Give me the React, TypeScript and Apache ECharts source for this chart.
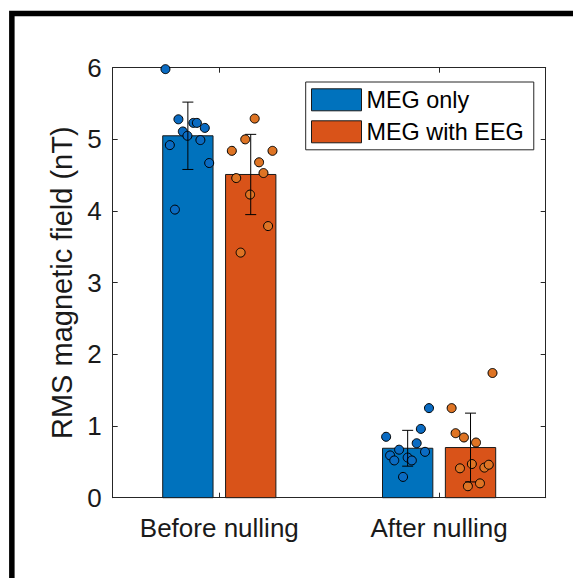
import React, { useEffect, useRef } from "react";
import * as echarts from "echarts";

// ---- data ----
const categories = ["Before nulling", "After nulling"];
const seriesNames = ["MEG only", "MEG with EEG"];

const megOnlyMeans = [5.05, 0.69];
const megOnlySD = [0.47, 0.25];
const megEegMeans = [4.51, 0.70];
const megEegSD = [0.56, 0.48];

// individual subject values (y) and horizontal jitter (x offset from bar centre)
const megOnlyBefore = [5.98, 5.28, 5.23, 5.23, 5.16, 5.11, 5.05, 4.99, 4.92, 4.67, 4.02];
const megOnlyBeforeJitter = [-0.102, -0.043, 0.025, 0.041, 0.077, -0.023, -0.002, 0.057, -0.082, 0.097, -0.059];
const megEegBefore = [5.29, 5.0, 4.84, 4.84, 4.68, 4.53, 4.46, 4.23, 3.79, 3.42];
const megEegBeforeJitter = [0.018, -0.025, -0.086, 0.099, 0.038, 0.058, -0.066, -0.003, 0.079, -0.046];
const megOnlyAfter = [1.25, 0.85, 0.96, 0.76, 0.67, 0.64, 0.59, 0.56, 0.52, 0.52, 0.29];
const megOnlyAfterJitter = [0.097, -0.098, 0.06, 0.041, -0.039, 0.079, -0.08, 0.0, -0.061, 0.019, -0.021];
const megEegAfter = [1.74, 1.25, 0.9, 0.84, 0.77, 0.41, 0.47, 0.42, 0.46, 0.2, 0.16];
const megEegAfterJitter = [0.1, -0.086, -0.068, -0.03, 0.025, -0.048, 0.006, 0.063, 0.083, 0.043, -0.012];

const yTickMin = 0;
const yTickMax = 6;
const yTickStep = 1;

// ---- styling ----
const FONT = "'Liberation Sans', Arial, Helvetica, sans-serif";
const AXIS = "#262626";
const BLUE = "#0072BD";
const ORANGE = "#D95319";
const BLUE_DOT = "#0A6BC2";
const ORANGE_DOT = "#DE7424";
const X_MIN = 0.515;
const X_MAX = 2.485;
const BAR_OFFSET = 0.143;
const BAR_W = 0.229;

function barSeries(name: string, means: number[], offset: number, color: string) {
  return {
    type: "custom",
    name,
    xAxisIndex: 0,
    yAxisIndex: 0,
    z: 1,
    itemStyle: { color },
    data: means.map((m, i) => [i + 1, m]),
    renderItem: (_p: any, api: any) => {
      const x = api.value(0) + offset;
      const p0 = api.coord([x - BAR_W / 2, api.value(1)]);
      const p1 = api.coord([x + BAR_W / 2, 0]);
      return {
        type: "rect",
        shape: { x: p0[0], y: p0[1], width: p1[0] - p0[0], height: p1[1] - p0[1] },
        style: { fill: color, stroke: "#1a1a1a", lineWidth: 1 },
      };
    },
  };
}

function errorSeries(name: string, means: number[], sds: number[], offset: number) {
  return {
    type: "custom",
    name,
    xAxisIndex: 0,
    yAxisIndex: 0,
    z: 3,
    data: means.map((m, i) => [i + 1, m, sds[i]]),
    renderItem: (_p: any, api: any) => {
      const x = api.value(0) + offset;
      const m = api.value(1);
      const s = api.value(2);
      const top = api.coord([x, m + s]);
      const bot = api.coord([x, m - s]);
      const half = 5.5;
      const st = { stroke: "#000", lineWidth: 1, fill: "none" };
      return {
        type: "group",
        children: [
          { type: "line", shape: { x1: top[0], y1: top[1], x2: bot[0], y2: bot[1] }, style: st },
          { type: "line", shape: { x1: top[0] - half, y1: top[1], x2: top[0] + half, y2: top[1] }, style: st },
          { type: "line", shape: { x1: bot[0] - half, y1: bot[1], x2: bot[0] + half, y2: bot[1] }, style: st },
        ],
      };
    },
  };
}

function dotSeries(name: string, group: number, offset: number, vals: number[], jit: number[], color: string) {
  return {
    type: "scatter",
    name,
    xAxisIndex: 0,
    yAxisIndex: 0,
    z: 2,
    symbol: "circle",
    symbolSize: 9,
    itemStyle: { color, borderColor: "#000", borderWidth: 1, opacity: 1 },
    data: vals.map((v, i) => [group + offset + jit[i], v]),
  };
}

const tickStyle = { inside: true, length: 5, lineStyle: { color: AXIS, width: 1 } };

export default function App() {
  const ref = useRef<HTMLDivElement>(null);
  useEffect(() => {
    if (!ref.current) return;
    const chart = echarts.init(ref.current, null, { renderer: "svg" });
    const option: any = {
      animation: false,
      backgroundColor: "#fff",
      textStyle: { fontFamily: FONT },
      graphic: [
        {
          type: "rect",
          silent: true,
          z: -10,
          shape: { x: 11.85, y: 13.6, width: 900, height: 900 },
          style: { fill: "none", stroke: "#000", lineWidth: 5.5 },
        },
      ],
      grid: { left: 112.7, top: 67.7, width: 433, height: 430, containLabel: false },
      legend: {
        orient: "vertical",
        left: 305.7,
        top: 82,
        padding: [6.3, 10, 6.5, 5.3],
        itemWidth: 50,
        itemHeight: 22,
        itemGap: 9,
        backgroundColor: "#fff",
        borderColor: AXIS,
        borderWidth: 1,
        selectedMode: false,
        textStyle: { fontSize: 23.4, color: "#000", fontFamily: FONT, lineHeight: 22 },
        data: [
          { name: seriesNames[0], icon: "rect", itemStyle: { color: BLUE, borderColor: "#1a1a1a", borderWidth: 1 } },
          { name: seriesNames[1], icon: "rect", itemStyle: { color: ORANGE, borderColor: "#1a1a1a", borderWidth: 1 } },
        ],
      },
      xAxis: [
        {
          type: "value",
          position: "bottom",
          min: X_MIN,
          max: X_MAX,
          axisLine: { show: true, onZero: false, lineStyle: { color: AXIS, width: 1 } },
          axisTick: { ...tickStyle, customValues: [1, 2] },
          axisLabel: {
            customValues: [1, 2],
            formatter: (v: number) => categories[Math.round(v) - 1] ?? "",
            fontSize: 26,
            color: "#1a1a1a",
            fontFamily: FONT,
            margin: 17,
          },
          splitLine: { show: false },
        },
        {
          type: "value",
          position: "top",
          min: X_MIN,
          max: X_MAX,
          axisLine: { show: true, onZero: false, lineStyle: { color: AXIS, width: 1 } },
          axisTick: { ...tickStyle, customValues: [1, 2] },
          axisLabel: { show: false },
          splitLine: { show: false },
        },
      ],
      yAxis: [
        {
          type: "value",
          position: "left",
          min: yTickMin,
          max: yTickMax,
          interval: yTickStep,
          axisLine: { show: true, onZero: false, lineStyle: { color: AXIS, width: 1 } },
          axisTick: tickStyle,
          axisLabel: { fontSize: 26, color: "#1a1a1a", fontFamily: FONT, margin: 11 },
          splitLine: { show: false },
          name: "RMS magnetic field (nT)",
          nameLocation: "middle",
          nameGap: 33,
          nameTextStyle: { fontSize: 29, color: "#1a1a1a", fontFamily: FONT },
        },
        {
          type: "value",
          position: "right",
          min: yTickMin,
          max: yTickMax,
          interval: yTickStep,
          axisLine: { show: true, onZero: false, lineStyle: { color: AXIS, width: 1 } },
          axisTick: tickStyle,
          axisLabel: { show: false },
          splitLine: { show: false },
        },
      ],
      series: [
        barSeries(seriesNames[0], megOnlyMeans, -BAR_OFFSET, BLUE),
        barSeries(seriesNames[1], megEegMeans, BAR_OFFSET, ORANGE),
        dotSeries("dots1", 1, -BAR_OFFSET, megOnlyBefore, megOnlyBeforeJitter, BLUE_DOT),
        dotSeries("dots2", 1, BAR_OFFSET, megEegBefore, megEegBeforeJitter, ORANGE_DOT),
        dotSeries("dots3", 2, -BAR_OFFSET, megOnlyAfter, megOnlyAfterJitter, BLUE_DOT),
        dotSeries("dots4", 2, BAR_OFFSET, megEegAfter, megEegAfterJitter, ORANGE_DOT),
        errorSeries("err1", megOnlyMeans, megOnlySD, -BAR_OFFSET),
        errorSeries("err2", megEegMeans, megEegSD, BAR_OFFSET),
      ],
    };
    chart.setOption(option);
    return () => chart.dispose();
  }, []);
  return (
    <div
      ref={ref}
      style={{ position: "fixed", left: 0, top: 0, width: 573, height: 578, background: "#fff" }}
    />
  );
}
